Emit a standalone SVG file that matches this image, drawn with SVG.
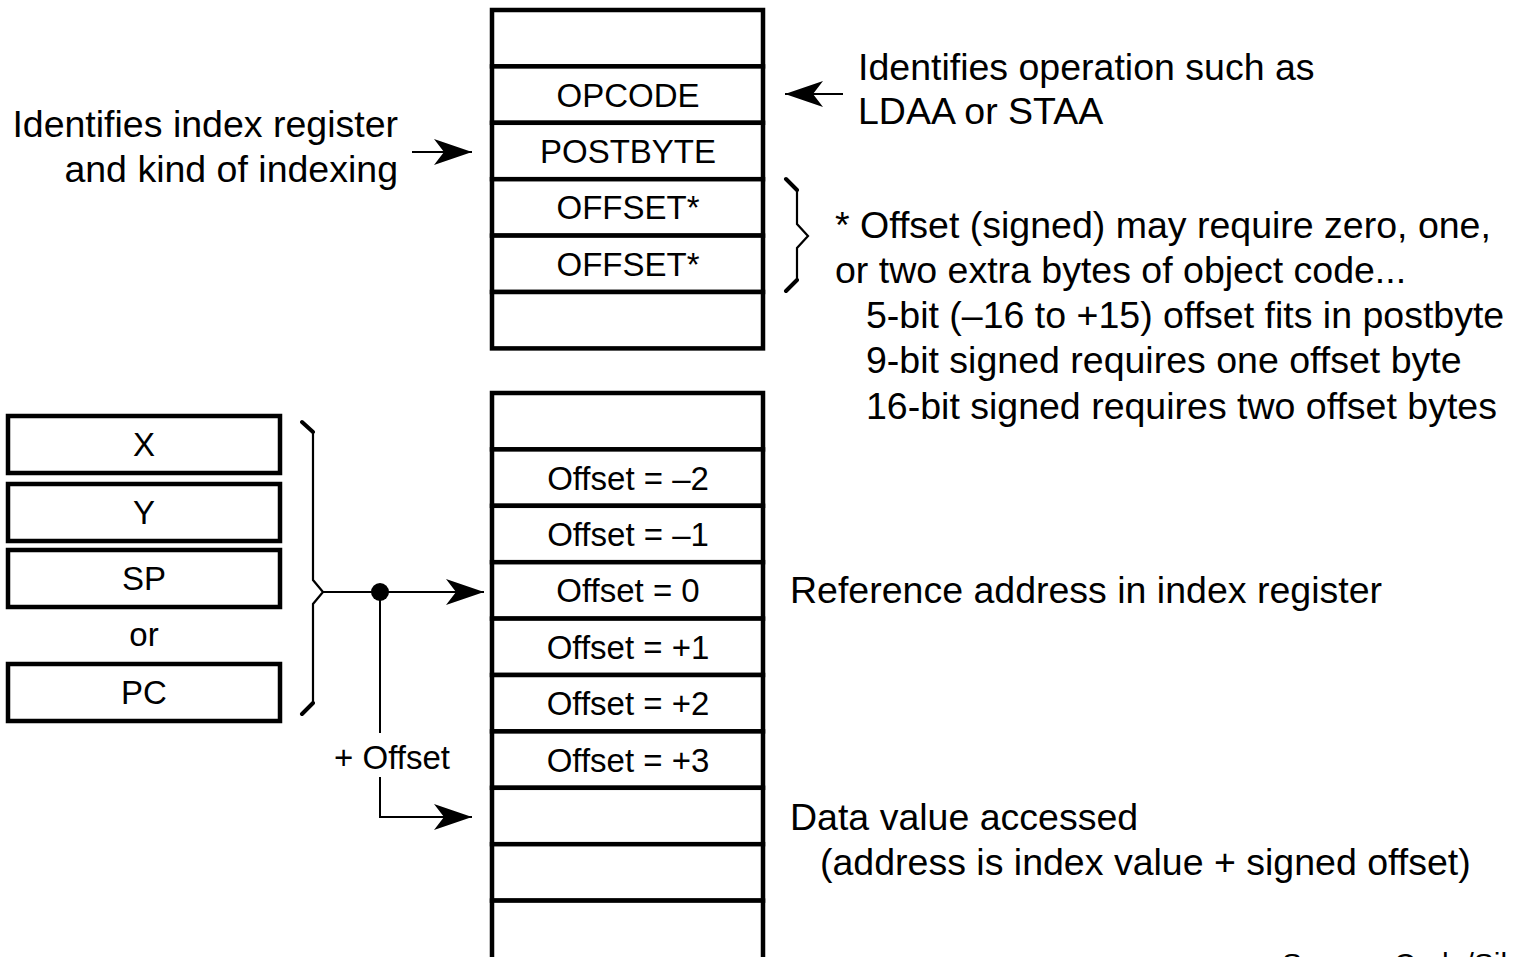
<svg xmlns="http://www.w3.org/2000/svg" width="1514" height="957" viewBox="0 0 1514 957">
  <style>
    .cell { fill: #fff; stroke: #000; stroke-width: 4.5; }
    .lbl { font-family: "Liberation Sans", Arial, sans-serif; font-size: 33px; fill: #000; text-anchor: middle; }
    .note { font-family: "Liberation Sans", Arial, sans-serif; font-size: 37.5px; fill: #000; }
    .wire { fill: none; stroke: #000; stroke-width: 2; }
    .hook { fill: none; stroke: #000; stroke-width: 4; stroke-linecap: round; }
    .spine { fill: none; stroke: #000; stroke-width: 2.2; stroke-linejoin: miter; }
  </style>
  <defs>
    <marker id="barb" viewBox="0 0 40 28" markerUnits="userSpaceOnUse" markerWidth="40" markerHeight="28" refX="39" refY="14" orient="auto">
      <path d="M39,14 L1,1 L11,14 L1,27 Z" fill="#000"/>
    </marker>
  </defs>
  <rect width="1514" height="957" fill="#fff"/>

  <!-- instruction bytes in memory -->
  <g id="instr-blank-top"><rect class="cell" x="492" y="10" width="271" height="56.4"/></g>
  <g id="instr-opcode"><rect class="cell" x="492" y="66.4" width="271" height="56.4"/><text class="lbl" x="628" y="106.5">OPCODE</text></g>
  <g id="instr-postbyte"><rect class="cell" x="492" y="122.8" width="271" height="56.4"/><text class="lbl" x="628" y="163">POSTBYTE</text></g>
  <g id="instr-offset1"><rect class="cell" x="492" y="179.2" width="271" height="56.4"/><text class="lbl" x="628" y="219">OFFSET*</text></g>
  <g id="instr-offset2"><rect class="cell" x="492" y="235.6" width="271" height="56.4"/><text class="lbl" x="628" y="275.5">OFFSET*</text></g>
  <g id="instr-blank-bottom"><rect class="cell" x="492" y="292" width="271" height="56.4"/></g>

  <!-- data memory -->
  <g id="mem-0"><rect class="cell" x="492" y="393" width="271" height="56.4"/></g>
  <g id="mem-m2"><rect class="cell" x="492" y="449.4" width="271" height="56.4"/><text class="lbl" x="628" y="489.5">Offset = –2</text></g>
  <g id="mem-m1"><rect class="cell" x="492" y="505.8" width="271" height="56.4"/><text class="lbl" x="628" y="546">Offset = –1</text></g>
  <g id="mem-z"><rect class="cell" x="492" y="562.2" width="271" height="56.4"/><text class="lbl" x="628" y="602.4">Offset = 0</text></g>
  <g id="mem-p1"><rect class="cell" x="492" y="618.6" width="271" height="56.4"/><text class="lbl" x="628" y="658.8">Offset = +1</text></g>
  <g id="mem-p2"><rect class="cell" x="492" y="675" width="271" height="56.4"/><text class="lbl" x="628" y="715.2">Offset = +2</text></g>
  <g id="mem-p3"><rect class="cell" x="492" y="731.4" width="271" height="56.4"/><text class="lbl" x="628" y="771.6">Offset = +3</text></g>
  <g id="mem-data"><rect class="cell" x="492" y="787.8" width="271" height="56.4"/></g>
  <g id="mem-a"><rect class="cell" x="492" y="844.2" width="271" height="56.4"/></g>
  <g id="mem-b"><rect class="cell" x="492" y="900.6" width="271" height="70"/></g>

  <!-- index registers -->
  <g id="reg-x"><rect class="cell" x="8" y="416" width="272" height="57"/><text class="lbl" x="144" y="456">X</text></g>
  <g id="reg-y"><rect class="cell" x="8" y="484" width="272" height="57"/><text class="lbl" x="144" y="524">Y</text></g>
  <g id="reg-sp"><rect class="cell" x="8" y="550" width="272" height="57"/><text class="lbl" x="144" y="590">SP</text></g>
  <text class="lbl" x="144" y="646">or</text>
  <g id="reg-pc"><rect class="cell" x="8" y="664" width="272" height="57"/><text class="lbl" x="144" y="704">PC</text></g>

  <!-- annotations -->
  <g id="note-postbyte">
    <text class="note" x="398" y="137" text-anchor="end">Identifies index register</text>
    <text class="note" x="398" y="182" text-anchor="end">and kind of indexing</text>
  </g>
  <g id="note-opcode">
    <text class="note" x="858" y="80">Identifies operation such as</text>
    <text class="note" x="858" y="124">LDAA or STAA</text>
  </g>
  <g id="note-offset">
    <text class="note" x="835" y="238">* Offset (signed) may require zero, one,</text>
    <text class="note" x="835" y="283">or two extra bytes of object code...</text>
    <text class="note" x="866" y="328">5-bit (–16 to +15) offset fits in postbyte</text>
    <text class="note" x="866" y="373">9-bit signed requires one offset byte</text>
    <text class="note" x="866" y="419">16-bit signed requires two offset bytes</text>
  </g>
  <g id="note-reference"><text class="note" x="790" y="603">Reference address in index register</text></g>
  <g id="note-data">
    <text class="note" x="790" y="830">Data value accessed</text>
    <text class="note" x="820" y="875">(address is index value + signed offset)</text>
  </g>
  <text class="note" x="1282" y="974" style="font-size:30px">Source: Code/Sil</text>

  <!-- connectors and braces -->
  <g id="connectors">
    <line class="wire" x1="412" y1="152" x2="472" y2="152" marker-end="url(#barb)"/>
    <line class="wire" x1="843" y1="94" x2="785" y2="94" marker-end="url(#barb)"/>
    <line class="wire" x1="323" y1="592" x2="484" y2="592" marker-end="url(#barb)"/>
    <circle cx="380" cy="592" r="9" fill="#000"/>
    <line class="wire" x1="380" y1="592" x2="380" y2="733"/>
    <text class="lbl" x="392" y="769">+ Offset</text>
    <path class="wire" d="M380,777 V817 H472" marker-end="url(#barb)"/>

    <path class="spine" d="M313,432 V580 L323,592 L313,604 V703"/>
    <path class="hook" d="M302,422 L313,432 M302,714 L313,703"/>

    <path class="spine" d="M797,190 V224 L808,236 L797,248 V280"/>
    <path class="hook" d="M786,179 L797,190 M786,291 L797,280"/>
  </g>
</svg>
